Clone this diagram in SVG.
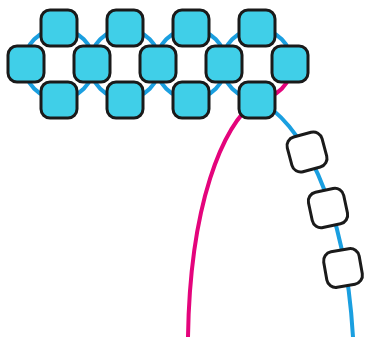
<svg xmlns="http://www.w3.org/2000/svg" width="365" height="337" viewBox="0 0 365 337">
<style>
.ring{fill:none;stroke:#1a9fe0;stroke-width:4}
.pink{fill:none;stroke:#e4047c;stroke-width:4}
.sq{fill:#40cfe8;stroke:#1a1a1a;stroke-width:3}
.wsq{fill:#ffffff;stroke:#1a1a1a;stroke-width:3}
</style>
<defs>
<rect id="s" x="-18" y="-18" width="36" height="36" rx="9"/>
</defs>
<rect width="365" height="337" fill="#ffffff"/>
<g id="connectors">
<circle class="ring" cx="59" cy="64" r="35"/>
<circle class="ring" cx="125" cy="64" r="35"/>
<circle class="ring" cx="191" cy="64" r="35"/>
<path class="ring" d="M 292,64 A 35 35 0 1 0 257,99"/>
<path class="pink" d="M 292,64 A 35 35 0 0 1 257,99"/>
<path class="ring" d="M 257,100 C 300,120 345,200 353,337"/>
<path class="pink" d="M 257,100 C 222,125 190,205 188,337"/>
</g>
<g id="n1"><use href="#s" class="sq" x="59" y="28"/></g>
<g id="n2"><use href="#s" class="sq" x="125" y="28"/></g>
<g id="n3"><use href="#s" class="sq" x="191" y="28"/></g>
<g id="n4"><use href="#s" class="sq" x="257" y="28"/></g>
<g id="n5"><use href="#s" class="sq" x="26" y="64"/></g>
<g id="n6"><use href="#s" class="sq" x="92" y="64"/></g>
<g id="n7"><use href="#s" class="sq" x="158" y="64"/></g>
<g id="n8"><use href="#s" class="sq" x="224" y="64"/></g>
<g id="n9"><use href="#s" class="sq" x="290" y="64"/></g>
<g id="n10"><use href="#s" class="sq" x="59" y="100"/></g>
<g id="n11"><use href="#s" class="sq" x="125" y="100"/></g>
<g id="n12"><use href="#s" class="sq" x="191" y="100"/></g>
<g id="n13"><use href="#s" class="sq" x="257" y="100"/></g>
<g id="w1"><use href="#s" class="wsq" transform="translate(307,152) rotate(-15)"/></g>
<g id="w2"><use href="#s" class="wsq" transform="translate(328,208) rotate(-12)"/></g>
<g id="w3"><use href="#s" class="wsq" transform="translate(343,268) rotate(-10)"/></g>
</svg>
